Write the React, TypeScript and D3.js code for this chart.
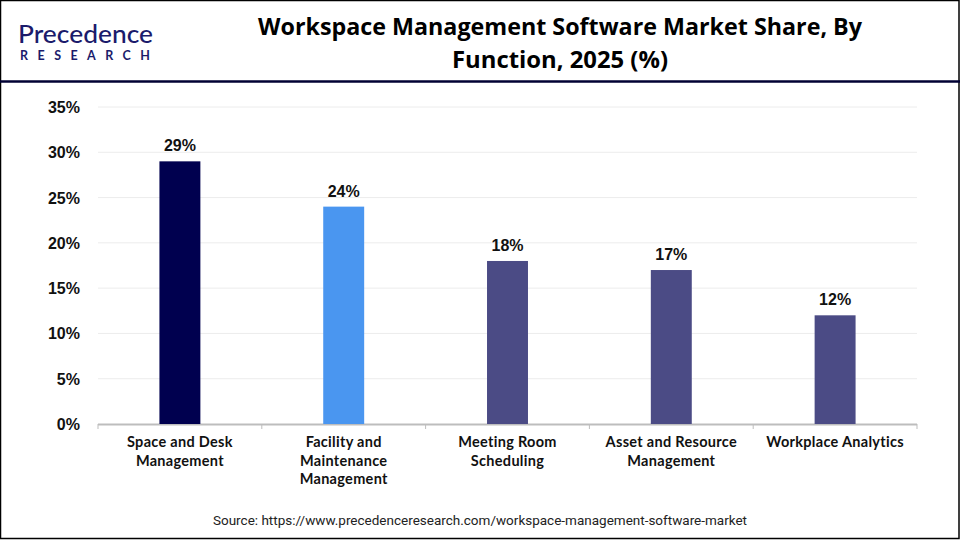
import * as d3 from 'd3';

const categories = [
  ['Space and Desk', 'Management'],
  ['Facility and', 'Maintenance', 'Management'],
  ['Meeting Room', 'Scheduling'],
  ['Asset and Resource', 'Management'],
  ['Workplace Analytics'],
];
const shares = [29, 24, 18, 17, 12];
const barColors = ['#00004f', '#4a96f0', '#4b4b85', '#4b4b85', '#4b4b85'];
const yTicks = [0, 5, 10, 15, 20, 25, 30, 35];

const W = 960;
const H = 540;
const plot = { left: 98, right: 917, top: 107, bottom: 424 };

export default function App() {
  const x = d3.scaleBand<number>()
    .domain(d3.range(shares.length))
    .range([plot.left, plot.right])
    .paddingInner(0)
    .paddingOuter(0);

  const y = d3.scaleLinear()
    .domain([0, 35])
    .range([plot.bottom, plot.top]);

  const barW = x.bandwidth() * 0.25;

  return (
    <svg width={W} height={H} style={{ position: 'absolute', left: 0, top: 0, fontFamily: 'Roboto, Arial, sans-serif' }}>
      <rect x={0} y={0} width={W} height={H} fill="#fff" />
      <rect x={0.5} y={0.5} width={W - 1.5} height={H - 2} fill="none" stroke="#000" strokeWidth={1.5} />
      <line x1={0} x2={W} y1={81.5} y2={81.5} stroke="#000033" strokeWidth={2.5} />

      {/* logo */}
      <g>
        <text x={18} y={43} fontFamily="Lato, sans-serif" fontSize={25} fontWeight={500} fill="#1b1b6b"
          textLength={135} lengthAdjust="spacingAndGlyphs">
          Precedence
        </text>
        <text x={20} y={60} fontFamily="Lato, sans-serif" fontSize={12.5} fontWeight={700} fill="#1b1b6b"
          textLength={130} lengthAdjust="spacing">
          RESEARCH
        </text>
      </g>

      {/* title */}
      <g fontFamily="'Open Sans', sans-serif" fontWeight={700} fontSize={24} fill="#000" textAnchor="middle">
        <text x={560} y={35} textLength={604} lengthAdjust="spacingAndGlyphs">
          Workspace Management Software Market Share, By
        </text>
        <text x={560} y={68} textLength={216} lengthAdjust="spacingAndGlyphs">
          Function, 2025 (%)
        </text>
      </g>

      {/* grid + y labels */}
      {yTicks.map(t => (
        <g key={t}>
          {t > 0 && (
            <line x1={plot.left} x2={plot.right} y1={y(t)} y2={y(t)} stroke="#ececec" strokeWidth={1} />
          )}
          <text x={80} y={y(t) + 6} textAnchor="end" fontSize={16} fontWeight={700} fill="#111"
            fontFamily="'Liberation Sans', Arial, sans-serif">
            {t}%
          </text>
        </g>
      ))}

      {/* x axis */}
      <line x1={plot.left} x2={plot.right} y1={plot.bottom + 0.5} y2={plot.bottom + 0.5} stroke="#bdbdbd" strokeWidth={2} />
      {d3.range(shares.length + 1).map(i => {
        const tx = i < shares.length ? (x(i) as number) : plot.right;
        return (
          <line key={i} x1={tx} x2={tx} y1={plot.bottom} y2={plot.bottom + 5} stroke="#bdbdbd" strokeWidth={1} />
        );
      })}

      {/* bars */}
      {shares.map((v, i) => {
        const cx = (x(i) as number) + x.bandwidth() / 2;
        return (
          <g key={i}>
            <rect x={cx - barW / 2} y={y(v)} width={barW} height={y(0) - y(v)} fill={barColors[i]} />
            <text x={cx} y={y(v) - 10} textAnchor="middle" fontSize={16} fontWeight={700} fill="#111"
              fontFamily="'Liberation Sans', Arial, sans-serif">
              {v}%
            </text>
          </g>
        );
      })}

      {/* category labels */}
      {categories.map((lines, i) => {
        const cx = (x(i) as number) + x.bandwidth() / 2;
        return (
          <text key={i} textAnchor="middle" fontSize={14.5} fontWeight={700} fill="#111"
            fontFamily="Lato, sans-serif" letterSpacing={0.3}>
            {lines.map((l, j) => (
              <tspan key={j} x={cx} y={447 + j * 18.5}>{l}</tspan>
            ))}
          </text>
        );
      })}

      <text x={480} y={525} textAnchor="middle" fontSize={13.5} fill="#222" fontFamily="Roboto, sans-serif">
        Source: https://www.precedenceresearch.com/workspace-management-software-market
      </text>
    </svg>
  );
}
